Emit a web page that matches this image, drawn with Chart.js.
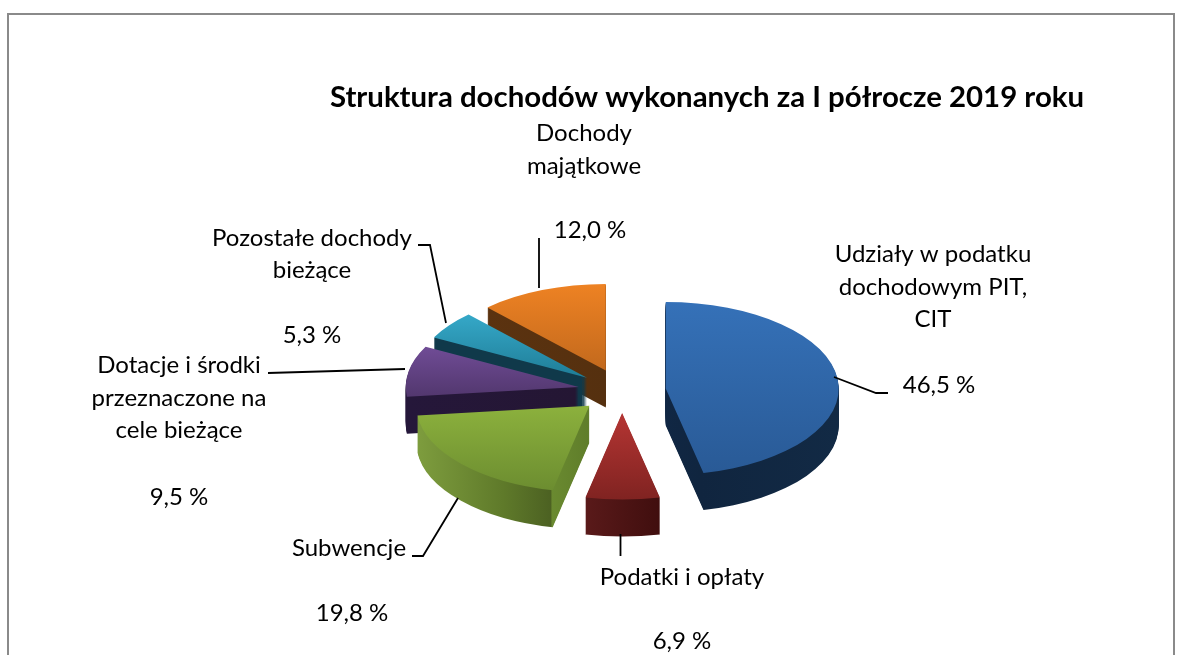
<!DOCTYPE html>
<html>
<head>
<meta charset="utf-8">
<title>Struktura dochodów</title>
<script src="https://cdn.jsdelivr.net/npm/chart.js@4"></script>
<style>
  html, body { margin: 0; padding: 0; background: #fff; overflow: hidden; }
  canvas { display: block; }
</style>
</head>
<body>
<canvas id="pie" width="1182" height="655"></canvas>
<script>
const titleText = "Struktura dochodów wykonanych za I półrocze 2019 roku";
const categories = [
  "Udziały w podatku dochodowym PIT, CIT",
  "Podatki i opłaty",
  "Subwencje",
  "Dotacje i środki przeznaczone na cele bieżące",
  "Pozostałe dochody bieżące",
  "Dochody majątkowe",
];
const shares = [46.5, 6.9, 19.8, 9.5, 5.3, 12.0];

const categoryLines = [
  ["Udziały w podatku", "dochodowym PIT,", "CIT"],
  ["Podatki i opłaty"],
  ["Subwencje"],
  ["Dotacje i środki", "przeznaczone na", "cele bieżące"],
  ["Pozostałe dochody", "bieżące"],
  ["Dochody", "majątkowe"],
];

// look of the slices, same order as categories
const faceTop = ["#3571b8", "#b53533", "#8cb13d", "#704c96", "#35a8c8", "#ee8223"];
const faceBottom = ["#295a96", "#802321", "#6c8d30", "#52376e", "#1f7d97", "#c2691d"];
const sideStops = [
  [[0, "#12305a"], [0.6, "#10253f"], [1, "#122a45"]],
  [[0.39, "#5a1a1a"], [0.61, "#400e0e"]],
  [[0, "#7e9d3e"], [0.25, "#5f7a2a"], [0.39, "#4c6122"], [0.391, "#6a8a30"], [0.5, "#5f7d2a"]],
  [[0, "#25173a"], [0.5, "#241633"]],
  [[0, "#10394a"], [0.5, "#10394a"]],
  [[0, "#5e3410"], [0.5, "#55300f"]],
];
const drawOrder = [5, 4, 3, 2, 1, 0];

// where the pie sits on the page
const pieX = 622;
const pieY = 391;
const squash = 0.5;
const depth = 37;
const explode = 44;

const labelFont = "24px Lato";
const labelSpots = [
  { lines: [[933, 254], [933, 287], [933, 319]], pct: [939, 385] },
  { lines: [[682, 577]], pct: [682, 641] },
  { lines: [[349, 548]], pct: [352, 613] },
  { lines: [[179, 365], [179, 398], [179, 430]], pct: [179, 497] },
  { lines: [[312, 238], [312, 270]], pct: [312, 335] },
  { lines: [[584, 133], [584, 166]], pct: [590, 230] },
];
const leaders = [
  [[834, 377], [876, 393], [888, 393]],
  [[620.5, 534], [620.5, 556]],
  [[458, 498], [423, 556], [412, 556]],
  [[405, 369], [268, 373]],
  [[446, 323], [430, 245], [418, 245]],
  [[539, 288], [539, 238]],
];

function faceSpan(arc) {
  const r = arc.outerRadius;
  const ys = [0, Math.sin(arc.startAngle) * r, Math.sin(arc.endAngle) * r];
  [Math.PI / 2, -Math.PI / 2, Math.PI * 1.5].forEach((a) => {
    if (a > arc.startAngle && a < arc.endAngle) ys.push(Math.sin(a) * r);
  });
  return [Math.min(...ys), Math.max(...ys)];
}

function drawSlice(ctx, arc, fill, mid, lift) {
  const saved = arc.options;
  arc.options = Object.assign({}, saved, { backgroundColor: fill });
  ctx.save();
  ctx.translate(pieX + Math.cos(mid) * explode, pieY + Math.sin(mid) * explode * squash + lift);
  ctx.scale(1, squash);
  ctx.translate(-arc.x, -arc.y);
  arc.draw(ctx);
  ctx.restore();
  arc.options = saved;
}

const pie3d = {
  id: "pie3d",
  beforeDraw(chart) {
    const ctx = chart.ctx;
    ctx.save();
    ctx.fillStyle = "#fff";
    ctx.fillRect(0, 0, chart.width, chart.height);
    ctx.strokeStyle = "#8a8a8a";
    ctx.lineWidth = 2;
    ctx.strokeRect(8, 14, 1166, 700);
    ctx.restore();
  },
  beforeDatasetsDraw(chart) {
    const ctx = chart.ctx;
    const arcs = chart.getDatasetMeta(0).data;
    drawOrder.forEach((i) => {
      const arc = arcs[i];
      const mid = (arc.startAngle + arc.endAngle) / 2;
      const r = arc.outerRadius;

      const side = ctx.createLinearGradient(arc.x - r, 0, arc.x + r, 0);
      sideStops[i].forEach((s) => side.addColorStop(s[0], s[1]));
      for (let d = depth; d > 0; d--) {
        drawSlice(ctx, arc, side, mid, d);
      }

      const span = faceSpan(arc);
      const face = ctx.createLinearGradient(0, arc.y + span[0], 0, arc.y + span[1]);
      face.addColorStop(0, faceTop[i]);
      face.addColorStop(1, faceBottom[i]);
      drawSlice(ctx, arc, face, mid, 0);
    });
    return false;
  },
  afterDraw(chart) {
    const ctx = chart.ctx;
    ctx.save();
    ctx.strokeStyle = "#000";
    ctx.lineWidth = 1.8;
    leaders.forEach((pts) => {
      ctx.beginPath();
      pts.forEach((p, n) => (n ? ctx.lineTo(p[0], p[1]) : ctx.moveTo(p[0], p[1])));
      ctx.stroke();
    });
    ctx.fillStyle = "#000";
    ctx.font = labelFont;
    ctx.textAlign = "center";
    ctx.textBaseline = "middle";
    labelSpots.forEach((spot, i) => {
      categoryLines[i].forEach((line, n) => {
        ctx.fillText(line, spot.lines[n][0], spot.lines[n][1]);
      });
      const pct = shares[i].toFixed(1).replace(".", ",") + " %";
      ctx.fillText(pct, spot.pct[0], spot.pct[1]);
    });
    ctx.restore();
  },
};

new Chart(document.getElementById("pie").getContext("2d"), {
  type: "pie",
  data: {
    labels: categories,
    datasets: [{ data: shares, backgroundColor: faceTop, borderWidth: 0 }],
  },
  options: {
    responsive: false,
    animation: false,
    radius: 173,
    layout: { padding: { left: 240, right: 8, top: 80, bottom: 0 } },
    plugins: {
      legend: { display: false },
      tooltip: { enabled: false },
      title: {
        display: true,
        text: titleText,
        color: "#000",
        font: { family: "Lato", size: 29.4, weight: "bold" },
        padding: 0,
      },
    },
  },
  plugins: [pie3d],
});
</script>
</body>
</html>
